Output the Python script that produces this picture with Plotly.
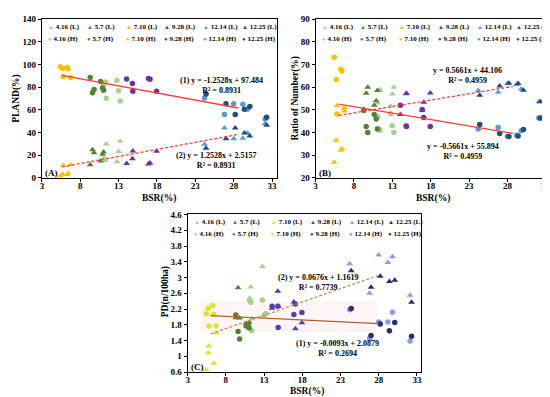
import plotly.graph_objects as go

W, H = 550, 397

# ---------------- data ----------------
DATES = ["4.16", "5.7", "7.10", "9.28", "12.14", "12.25"]

BSR = [
    [11.1, 11.27, 11.4, 12.78, 13.0, 13.2],
    [9.3, 9.6, 9.8, 10.65, 10.9, 11.05],
    [5.42, 5.7, 6.29, 6.42, 5.78, 6.73],
    [14.05, 14.8, 14.85, 16.9, 17.1, 17.95],
    [24.2, 26.8, 28.0, 29.2, 29.8, 32.1],
    [24.4, 27.0, 28.2, 29.4, 30.1, 32.3],
]

PLAND_L = [
    [17.5, 15.3, 29.8, 14.1, 23.1, 32.2],
    [11.4, 24.8, 22.0, 14.9, 20.7, 22.7],
    [1.8, 3.2, 2.6, 4.0, 10.8, 11.4],
    [12.7, 16.8, 23.6, 12.2, 13.0, 23.5],
    [29.5, 44.0, 34.5, 35.0, 39.5, 48.0],
    [26.0, 34.5, 44.0, 39.5, 37.0, 46.5],
]
PLAND_H = [
    [82.5, 84.7, 70.2, 85.9, 76.9, 67.8],
    [88.6, 75.2, 78.0, 85.1, 79.3, 77.3],
    [98.2, 96.8, 97.4, 96.0, 89.2, 88.6],
    [87.3, 83.2, 76.4, 87.8, 87.0, 76.5],
    [70.5, 56.0, 65.5, 65.0, 60.5, 52.0],
    [74.0, 65.5, 56.0, 60.5, 63.0, 53.5],
]

RATIO_L = [
    [53.0, 58.5, 59.0, 51.7, 57.0, 60.0],
    [50.3, 57.3, 60.0, 52.0, 54.0, 58.5],
    [26.8, 36.6, 32.1, 32.8, 51.8, 49.5],
    [48.0, 57.1, 57.3, 49.8, 53.4, 57.4],
    [58.5, 57.8, 61.7, 61.2, 59.2, 53.6],
    [56.5, 60.5, 61.8, 61.6, 58.7, 53.6],
]
RATIO_H = [
    [47.0, 41.5, 41.0, 48.3, 43.0, 40.0],
    [49.7, 42.7, 40.0, 48.0, 46.0, 41.5],
    [73.2, 63.4, 67.9, 67.2, 48.2, 50.5],
    [52.0, 42.9, 42.7, 50.2, 46.6, 42.6],
    [41.5, 42.2, 38.3, 38.8, 40.8, 46.4],
    [43.5, 39.5, 38.2, 38.4, 41.3, 46.4],
]

PD_L = [
    [2.47, 2.76, 1.95, 3.28, 2.04, 2.08],
    [1.98, 2.74, 1.97, 1.84, 1.78, 1.86],
    [0.66, 1.08, 2.06, 0.82, 1.26, 1.59],
    [2.22, 2.65, 2.27, 2.38, 1.70, 1.85],
    [3.35, 2.60, 3.57, 3.38, 3.53, 2.55],
    [3.17, 2.75, 3.03, 2.90, 2.93, 2.37],
]
PD_H = [
    [2.43, 2.37, 1.65, 2.43, 2.04, 2.08],
    [2.05, 1.63, 1.44, 1.77, 1.80, 1.72],
    [2.08, 2.22, 2.29, 2.07, 1.77, 1.77],
    [2.27, 2.27, 1.73, 2.06, 2.33, 2.11],
    [2.18, 1.46, 1.87, 1.87, 2.12, 1.39],
    [2.21, 1.53, 1.82, 1.65, 1.86, 1.51],
]

COLORS_AB = ["#A9D18E", "#548235", "#FFC000", "#7030A0", "#5B9BD5", "#1F4E79"]
COLORS_C = ["#A9D18E", "#548235", "#E2E22A", "#5040B0", "#8C9BE6", "#2E2B6E"]

X_TICKS = [3, 8, 13, 18, 23, 28, 33]
PLAND_TICKS = [0, 20, 40, 60, 80, 100, 120, 140]
RATIO_TICKS = [20, 30, 40, 50, 60, 70, 80, 90]
PD_TICKS = [0.6, 1.0, 1.4, 1.8, 2.2, 2.6, 3.0, 3.4, 3.8, 4.2, 4.6]
PD_TICK_TEXT = ["0.6", "1", "1.4", "1.8", "2.2", "2.6", "3", "3.4", "3.8", "4.2", "4.6"]

# trend lines: slope, intercept, x-start, x-end
TREND_A = [(-1.2528, 97.484, 5.6, 28.6, "solid"), (1.2528, 2.5157, 5.6, 28.4, "dash")]
TREND_B = [(-0.5661, 55.894, 6.0, 28.7, "solid"), (0.5661, 44.106, 6.0, 28.7, "dash")]
TREND_C = [(-0.0093, 2.0879, 6.0, 28.0, "solid"), (0.0676, 1.1619, 6.0, 27.9, "dash")]

EQ_A = ["(1) y = -1.2528x + 97.484<br>R² = 0.8931", "(2) y = 1.2528x + 2.5157<br>R² = 0.8931"]
EQ_B = ["y = 0.5661x + 44.106<br>R² = 0.4959", "y = -0.5661x + 55.894<br>R² = 0.4959"]
EQ_C = ["(2) y = 0.0676x + 1.1619<br>R² = 0.7739", "(1) y = -0.0093x + 2.0879<br>R² = 0.2694"]

# ---------------- layout helpers (pixel -> paper) ----------------
FONT = "Liberation Serif"


def pxx(x):
    return x / W


def pxy(y):
    return 1 - y / H


# panel boxes in pixels: left, right, top, bottom
PANELS = {
    "A": dict(l=32, r=268, t=6.5, b=169, xa="x", ya="y"),
    "B": dict(l=306.7, r=542.7, t=6.5, b=169, xa="x2", ya="y2"),
    "C": dict(l=178.3, r=413, t=206.7, b=368.3, xa="x3", ya="y3"),
}

fig = go.Figure()


def add_series(panel, yl, yh, colors):
    p = PANELS[panel]
    for i, d in enumerate(DATES):
        fig.add_trace(go.Scatter(
            x=BSR[i], y=yl[i], mode="markers", name=f"{d} (L)", showlegend=False,
            marker=dict(symbol="triangle-up", size=6, color=colors[i], line=dict(width=0)),
            xaxis=p["xa"], yaxis=p["ya"]))
    for i, d in enumerate(DATES):
        fig.add_trace(go.Scatter(
            x=BSR[i], y=yh[i], mode="markers", name=f"{d} (H)", showlegend=False,
            marker=dict(symbol="circle", size=5.5, color=colors[i], line=dict(width=0)),
            xaxis=p["xa"], yaxis=p["ya"]))


def add_trends(panel, trends, colors):
    p = PANELS[panel]
    for (m, c, x0, x1, dash), col in zip(trends, colors):
        xs = [x0, x1]
        fig.add_trace(go.Scatter(
            x=xs, y=[m * v + c for v in xs], mode="lines", showlegend=False,
            line=dict(color=col, width=1.3, dash="solid" if dash == "solid" else "3px,2px"),
            xaxis=p["xa"], yaxis=p["ya"], hoverinfo="skip"))


add_series("A", PLAND_L, PLAND_H, COLORS_AB)
add_series("B", RATIO_L, RATIO_H, COLORS_AB)
add_series("C", PD_L, PD_H, COLORS_C)
add_trends("A", TREND_A, ["#FF3B3B", "#FF3B3B"])
add_trends("B", TREND_B, ["#FF3B3B", "#FF3B3B"])
add_trends("C", TREND_C, ["#B5602A", "#C98B4E"])

tickfont = dict(family=FONT, size=9, color="black", weight="bold")


def axis_common():
    return dict(showgrid=False, zeroline=False, showline=True, linecolor="black", linewidth=1,
                mirror=True, ticks="outside", ticklen=3, tickwidth=1, tickcolor="black",
                tickfont=tickfont)


def xaxis_common():
    d = axis_common()
    d["ticklabelstandoff"] = -4
    return d


def xdom(p):
    return [pxx(PANELS[p]["l"]), pxx(PANELS[p]["r"])]


def ydom(p):
    return [pxy(PANELS[p]["b"]), pxy(PANELS[p]["t"])]


fig.update_layout(
    width=W, height=H, margin=dict(l=0, r=0, t=0, b=0),
    paper_bgcolor="white", plot_bgcolor="white", showlegend=False,
    xaxis=dict(domain=xdom("A"), range=[3, 33.65], tickvals=X_TICKS, anchor="y", **xaxis_common()),
    yaxis=dict(domain=ydom("A"), range=[0, 140], tickvals=PLAND_TICKS, anchor="x", **axis_common()),
    xaxis2=dict(domain=xdom("B"), range=[3, 33.65], tickvals=X_TICKS, anchor="y2", **xaxis_common()),
    yaxis2=dict(domain=ydom("B"), range=[20, 90], tickvals=RATIO_TICKS, anchor="x2", **axis_common()),
    xaxis3=dict(domain=xdom("C"), range=[3, 33.6], tickvals=X_TICKS, anchor="y3", **xaxis_common()),
    yaxis3=dict(domain=ydom("C"), range=[0.6, 4.6], tickvals=PD_TICKS, ticktext=PD_TICK_TEXT,
                anchor="x3", **axis_common()),
)

# faint pink highlight behind trend (1) in panel C
fig.add_shape(type="rect", xref="x3", yref="y3", x0=4.7, x1=27.8, y0=1.62, y1=2.4,
              fillcolor="rgba(255,190,205,0.16)", line=dict(width=0), layer="below")

ann = []


def text(x, y, s, size=9, xanchor="center", angle=0):
    ann.append(dict(x=pxx(x), y=pxy(y), xref="paper", yref="paper", text=s, showarrow=False,
                    xanchor=xanchor, yanchor="middle", textangle=angle,
                    font=dict(family=FONT, size=size, color="black", weight="bold")))


# legends
for key, colors in (("A", COLORS_AB), ("B", COLORS_AB), ("C", COLORS_C)):
    p = PANELS[key]
    for i, d in enumerate(DATES):
        for row, (sym, tag) in enumerate((("▲", "L"), ("●", "H"))):
            s = f'<span style="color:{colors[i]};font-size:6px">{sym}</span> {d} ({tag})'
            text(p["l"] + 4 + 39 * i, p["t"] + 7.5 + 12.5 * row, s, size=7, xanchor="left")

# equations
text(212.5, 74.2, EQ_A[0], size=8)
text(206.7, 151.3, EQ_A[1], size=8)
text(459, 63.8, EQ_B[0], size=8)
text(454.7, 142, EQ_B[1], size=8)
text(309.5, 276, EQ_C[0], size=8)
text(328.3, 343.8, EQ_C[1], size=8)

# panel labels
text(33.5, 164, "(A)", size=9, xanchor="left")
text(308.3, 164, "(B)", size=9, xanchor="left")
text(179.5, 363.5, "(C)", size=9, xanchor="left")

# axis titles
text(150, 190, "BSR(%)", size=9.5)
text(425, 190, "BSR(%)", size=9.5)
text(298.3, 388.5, "BSR(%)", size=9.5)
text(7, 87, "PLAND(%)", size=9.5, angle=-90)
text(286.7, 88, "Ratio of Number(%)", size=9.5, angle=-90)
text(156, 286, "PD(n/100ha)", size=9.5, angle=-90)

fig.update_layout(annotations=ann)

fig.write_html("out.html")
